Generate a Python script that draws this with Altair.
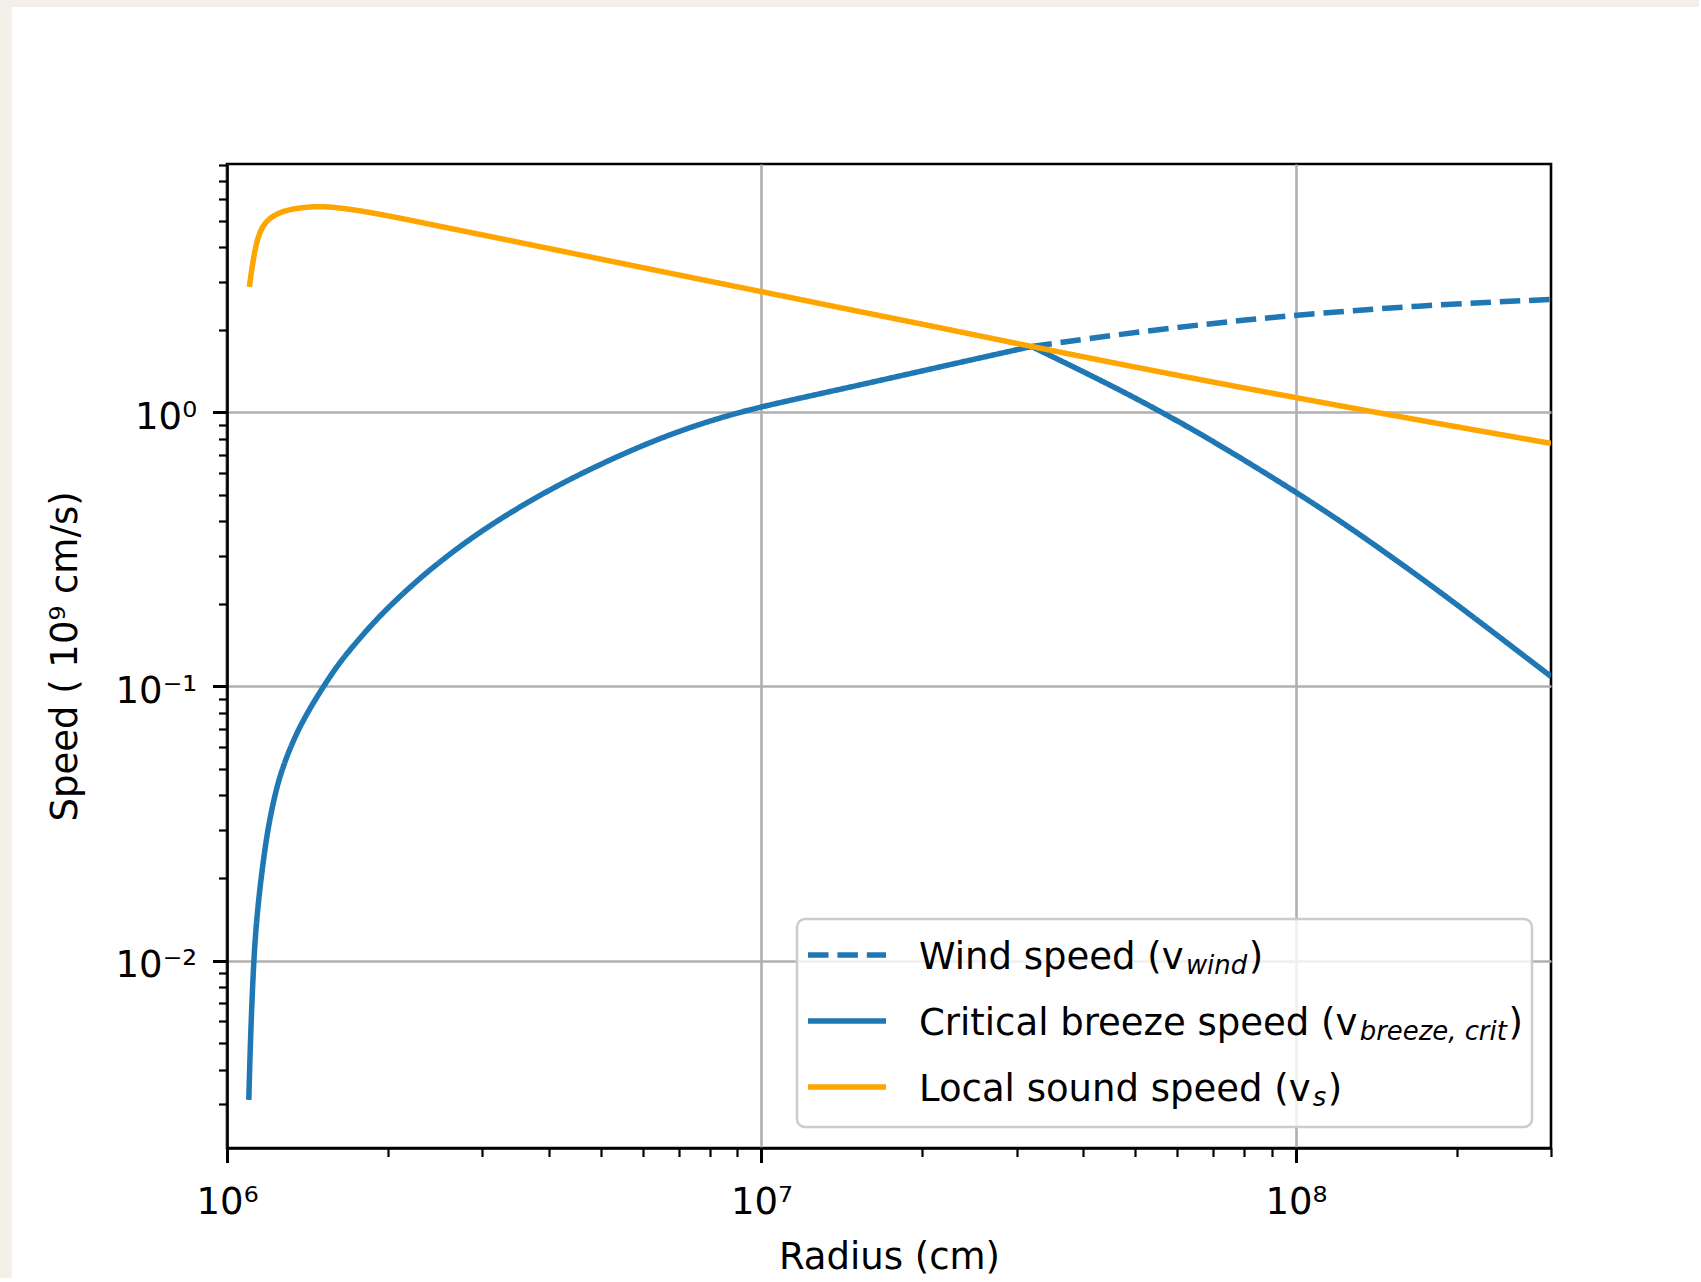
import json
import altair as alt
import pandas as pd

# ---------------- data ----------------
# radius in cm, speed in units of 1e9 cm/s
breeze_r = [1.0985e6, 1.104e6, 1.113e6, 1.1225e6, 1.132e6, 1.1506e6, 1.1797e6, 1.1992e6,
            1.2291e6, 1.260e6, 1.313e6, 1.3911e6, 1.511e6, 1.614e6, 1.7241e6, 1.8726e6,
            2.0334e6, 2.3591e6, 2.7822e6, 3.1754e6, 3.7445e6, 4.4157e6, 5.2084e6, 6.1432e6,
            7.2444e6, 8.5443e6, 1.0044e7, 1.4884e7, 2.3118e7, 3.2013e7, 4.4771e7, 5.5796e7,
            6.955e7, 1.0069e8, 1.3459e8, 1.8743e8, 2.335e8, 3.0e8]
breeze_v = [0.0031, 0.00449, 0.0070, 0.0100, 0.01294, 0.01811, 0.0263, 0.0319,
            0.0402, 0.0481, 0.0600, 0.0762, 0.0993, 0.1202, 0.141, 0.1694,
            0.200, 0.261, 0.334, 0.398, 0.484, 0.575, 0.671, 0.773,
            0.873, 0.967, 1.052, 1.243, 1.51, 1.738, 1.264, 1.007,
            0.791, 0.509, 0.349, 0.219, 0.158, 0.1087]
# the breeze curve has a sharp corner at the sonic point (index of the peak)
breeze_peak = 29

wind_r = [3.2013e7, 4.4771e7, 6.955e7, 1.0069e8, 1.6779e8, 3.0e8]
wind_v = [1.738, 1.905, 2.113, 2.266, 2.449, 2.582]

sound_r = [1.101e6, 1.1246e6, 1.1495e6, 1.1912e6, 1.2794e6, 1.3759e6, 1.4622e6, 1.5888e6,
           1.8365e6, 2.1184e6, 2.4505e6, 3.6028e6, 5.2951e6, 7.7804e6, 1.0051e7, 1.5257e7,
           1.8535e7, 2.8138e7, 3.2013e7, 5.5796e7, 1.0069e8, 1.6779e8, 3.0e8]
sound_v = [2.87, 3.85, 4.55, 5.09, 5.46, 5.57, 5.64, 5.61,
           5.38, 5.10, 4.81, 4.13, 3.54, 3.04, 2.75, 2.33,
           2.16, 1.83, 1.738, 1.40, 1.127, 0.94, 0.77]

series_names = ["Wind speed", "Critical breeze speed", "Local sound speed"]
legend_main = ["Wind speed (v", "Critical breeze speed (v", "Local sound speed (v"]
legend_sub = ["wind", "breeze, crit", "s"]
series_colors = ["#1f77b4", "#1f77b4", "#ffa500"]

x_major = [1e6, 1e7, 1e8]
x_major_labels = ["10⁶", "10⁷", "10⁸"]
x_minor = [2e6, 3e6, 4e6, 5e6, 6e6, 7e6, 8e6, 9e6,
           2e7, 3e7, 4e7, 5e7, 6e7, 7e7, 8e7, 9e7, 2e8, 3e8]
y_major = [0.01, 0.1, 1.0]
y_major_labels = ["10⁻²", "10⁻¹", "10⁰"]
y_minor = [0.003, 0.004, 0.005, 0.006, 0.007, 0.008, 0.009,
           0.02, 0.03, 0.04, 0.05, 0.06, 0.07, 0.08, 0.09,
           0.2, 0.3, 0.4, 0.5, 0.6, 0.7, 0.8, 0.9,
           2.0, 3.0, 4.0, 5.0, 6.0, 7.0, 8.0]
x_domain = [1e6, 3.0e8]
y_domain = [0.00207, 8.05]

x_title = "Radius (cm)"
y_title = "Speed ( 10⁹ cm/s)"

# ---------------- layout / style ----------------
FONT = "DejaVu Sans"
FS = 37
W, H = 1324, 984
PAD = {"left": 227, "top": 164, "right": 148, "bottom": 130}
GRID = "#b0b0b0"
BEIGE = "#f3f0e9"

rows = []
for name, rs, vs in zip(series_names, [wind_r, breeze_r, sound_r], [wind_v, breeze_v, sound_v]):
    for i, (r, v) in enumerate(zip(rs, vs)):
        if name == series_names[1]:
            if i <= breeze_peak:
                rows.append({"series": name, "branch": 0, "r": r, "v": v, "i": i})
            if i >= breeze_peak:
                rows.append({"series": name, "branch": 1, "r": r, "v": v, "i": i})
        else:
            rows.append({"series": name, "branch": 0, "r": r, "v": v, "i": i})
df = pd.DataFrame(rows)


def label_expr(vals, labels):
    expr = "''"
    for val, lab in reversed(list(zip(vals, labels))):
        expr = f"datum.value == {val!r} ? '{lab}' : ({expr})"
    return expr


def major_test(vals):
    return f"indexof({json.dumps(vals)}, datum.value) >= 0"


def cond(test, a, b):
    return {"condition": {"test": test, "value": a}, "value": b}


tx = major_test(x_major)
ty = major_test(y_major)

x_axis = alt.Axis(
    values=x_major + x_minor,
    labelExpr=label_expr(x_major, x_major_labels),
    tickSize=cond(tx, 14.5, 8.5),
    tickWidth=cond(tx, 3, 2.2),
    tickColor="black",
    grid=True, gridColor=GRID, gridWidth=2.6,
    gridOpacity=cond(tx, 1, 0),
    domain=True, domainColor="black", domainWidth=2.6,
    labelFont=FONT, labelFontSize=FS, labelColor="black",
    labelBaseline="alphabetic", labelPadding=50.5,
    labelFlush=False, labelOverlap=False,
    title=x_title, titleFont=FONT, titleFontSize=FS, titleFontWeight="normal",
    titleColor="black", titleX=W / 2, titleY=120, titleBaseline="alphabetic",
    titleAlign="center",
)

y_axis = alt.Axis(
    values=y_major + y_minor,
    labelExpr=label_expr(y_major, y_major_labels),
    tickSize=cond(ty, 14.5, 8.5),
    tickWidth=cond(ty, 3, 2.2),
    tickColor="black",
    grid=True, gridColor=GRID, gridWidth=2.6,
    gridOpacity=cond(ty, 1, 0),
    domain=True, domainColor="black", domainWidth=2.6,
    labelFont=FONT, labelFontSize=FS, labelColor="black",
    labelBaseline="alphabetic", labelOffset=16, labelPadding=16,
    labelFlush=False, labelOverlap=False,
    title=y_title, titleFont=FONT, titleFontSize=FS, titleFontWeight="normal",
    titleColor="black", titleX=-150.5, titleY=H / 2, titleBaseline="alphabetic",
    titleAlign="center", titleAngle=270,
)

xs = alt.Scale(type="log", domain=x_domain, nice=False)
ys = alt.Scale(type="log", domain=y_domain, nice=False)
color_scale = alt.Scale(domain=series_names, range=series_colors)
dash_scale = alt.Scale(domain=series_names, range=[[20.5, 8.9], [1, 0], [1, 0]])

layers = []
for name in series_names:
    layers.append(
        alt.Chart(df).transform_filter(alt.datum.series == name)
        .mark_line(strokeWidth=5.5, strokeJoin="round", strokeCap="butt",
                   interpolate="basis", clip=True)
        .encode(
            x=alt.X("r:Q", scale=xs, axis=x_axis),
            y=alt.Y("v:Q", scale=ys, axis=y_axis),
            color=alt.Color("series:N", scale=color_scale, legend=None),
            strokeDash=alt.StrokeDash("series:N", scale=dash_scale, legend=None),
            detail="branch:N",
            order="i:Q",
        )
    )

one = alt.Data(values=[{"k": 0}])

# beige page edge seen in the screenshot (outside the figure)
layers.append(alt.Chart(one).mark_rect(fill=BEIGE).encode(
    x=alt.value(-PAD["left"]), x2=alt.value(-215),
    y=alt.value(-PAD["top"]), y2=alt.value(H + PAD["bottom"])))
layers.append(alt.Chart(one).mark_rect(fill=BEIGE).encode(
    x=alt.value(-PAD["left"]), x2=alt.value(W + PAD["right"]),
    y=alt.value(-PAD["top"]), y2=alt.value(-157)))

# ---------------- legend (matplotlib-like, with subscripts) ----------------
ADV = {" ": 651, "(": 799, ")": 799, ",": 651, "C": 1430, "L": 1141, "W": 2025,
       "a": 1255, "b": 1300, "c": 1126, "d": 1300, "e": 1260, "i": 569, "l": 569,
       "n": 1298, "o": 1253, "p": 1300, "r": 842, "s": 1067, "t": 803, "u": 1298,
       "v": 1212, "w": 1675, "z": 1075}


def text_w(s, size):
    return sum(ADV.get(ch, 1200) for ch in s) / 2048.0 * size


layers.append(alt.Chart(one).mark_rect(
    fill="white", fillOpacity=0.8, stroke="#cccccc", strokeWidth=2.5, cornerRadius=8
).encode(x=alt.value(570), x2=alt.value(1305), y=alt.value(755), y2=alt.value(963)))

SUB = FS * 0.7
for i in range(len(series_names)):
    ysym = 791 + 66 * i
    base = ysym + 14
    dash = [20.5, 8.9] if i == 0 else [1, 0]
    layers.append(alt.Chart(one).mark_rule(
        color=series_colors[i], strokeWidth=5.5, strokeDash=dash, strokeCap="butt"
    ).encode(x=alt.value(581), x2=alt.value(659), y=alt.value(ysym)))
    x0 = 692
    x_sub = x0 + text_w(legend_main[i], FS) + 1.5
    x_close = x_sub + text_w(legend_sub[i], SUB) + 1.5
    layers.append(alt.Chart(one).mark_text(
        text=legend_main[i], align="left", baseline="alphabetic",
        font=FONT, fontSize=FS, color="black"
    ).encode(x=alt.value(x0), y=alt.value(base)))
    layers.append(alt.Chart(one).mark_text(
        text=legend_sub[i], align="left", baseline="alphabetic",
        font=FONT, fontSize=SUB, fontStyle="italic", color="black"
    ).encode(x=alt.value(x_sub), y=alt.value(base + 5)))
    layers.append(alt.Chart(one).mark_text(
        text=")", align="left", baseline="alphabetic",
        font=FONT, fontSize=FS, color="black"
    ).encode(x=alt.value(x_close), y=alt.value(base)))

chart = alt.layer(*layers).properties(
    width=W, height=H,
    autosize=alt.AutoSizeParams(type="none"),
    padding=PAD,
    background="white",
).configure_view(stroke="black", strokeWidth=2.6)

chart.save("out.html", embed_options={"renderer": "svg", "actions": False})
